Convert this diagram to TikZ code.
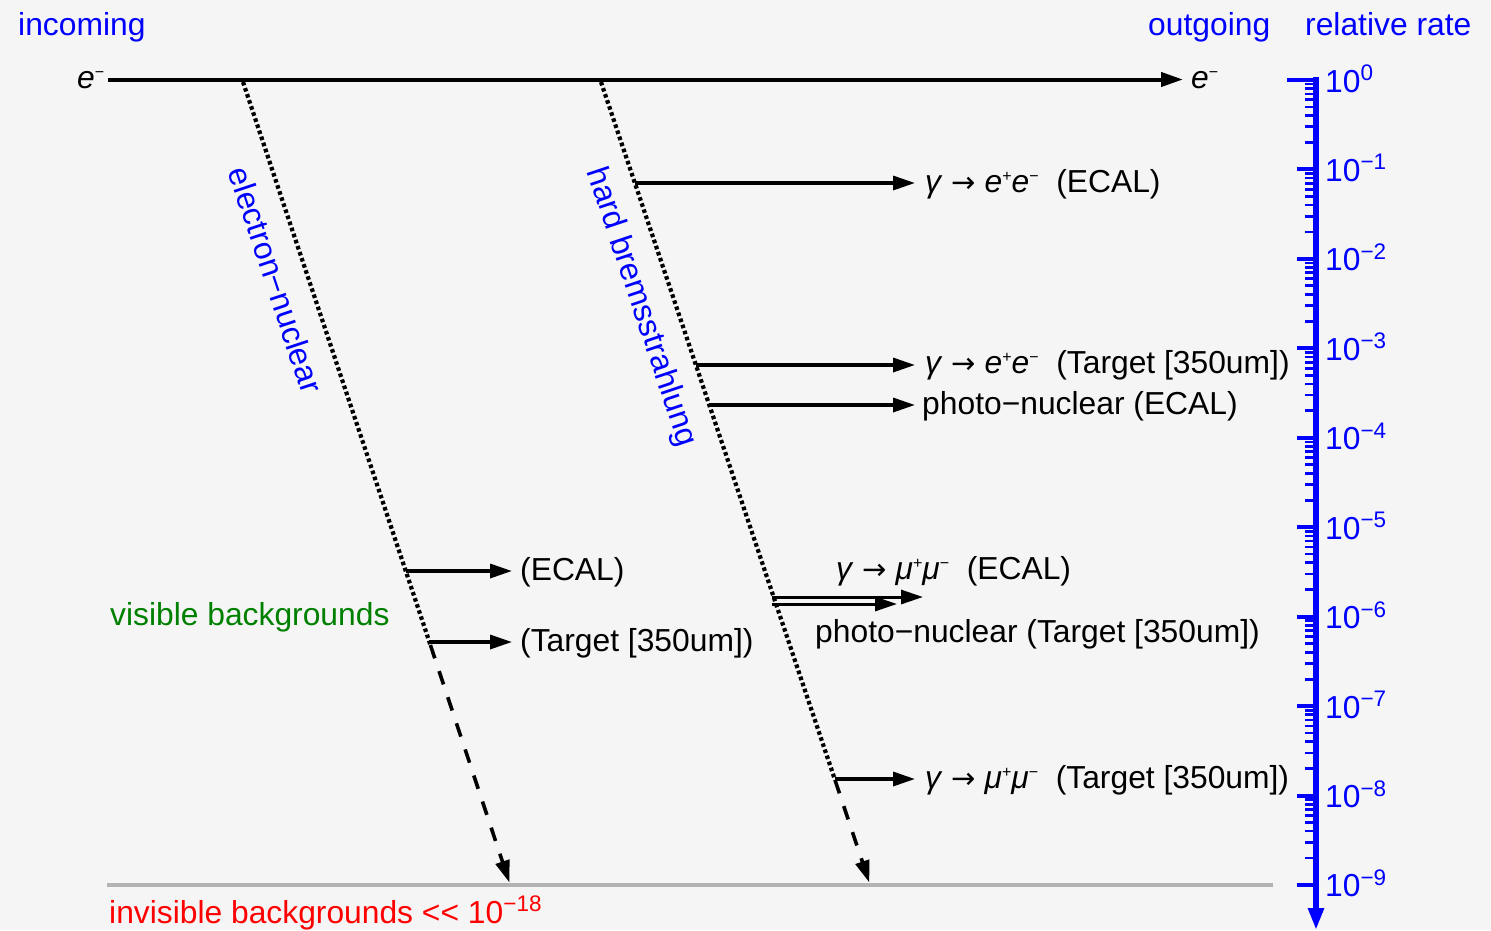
\documentclass[tikz,border=0pt]{standalone}
\usepackage{fontspec}
\setmainfont{Liberation Sans}
\newfontfamily\arrowfont{DejaVu Sans}
\usetikzlibrary{arrows.meta,calc}
\definecolor{bg}{HTML}{F5F5F5}
\definecolor{gline}{HTML}{B3B3B3}
\definecolor{dgreen}{HTML}{008000}
\newcommand\supA[1]{\raisebox{11.5pt}{\fontsize{22.5}{22}\selectfont #1}}
\newcommand\supB[1]{\raisebox{11pt}{\fontsize{16}{16}\selectfont #1}}
\newcommand\rarr{{\arrowfont\fontsize{29}{29}\selectfont →}}
\begin{document}
\begin{tikzpicture}[x=1pt,y=-1pt,
  every node/.style={inner sep=0pt, font=\fontsize{31.8}{38}\selectfont},
  arrowhd/.style={-{Triangle[length=22pt,width=14pt]}},
  branch/.style={arrowhd, line width=3.3pt},
  dotline/.style={line width=4.2pt, dash pattern=on 3.6pt off 2.8pt},
  dashline/.style={arrowhd, line width=3.6pt, dash pattern=on 14pt off 13.5pt},
  lab/.style={anchor=base west},
  ticklab/.style={anchor=base west, text=blue},
  major/.style={blue, line width=4pt},
  minor/.style={blue, line width=2.7pt},
]
\useasboundingbox (0,0) rectangle (1491,930);
\fill[bg] (0,0) rectangle (1491,930);

% headers
\node[lab, text=blue] (hin) at (18,35) {incoming};
\node[lab, text=blue] (hout) at (1148,35) {outgoing};
\node[lab, text=blue] (hrate) at (1305,35) {relative rate};

% main electron line
\node[lab] (ein) at (77,88) {\textit{e}\supB{−}};
\node[lab] (eout) at (1191,88) {\textit{e}\supB{−}};
\coordinate (a0) at (108,79.5);
\coordinate (a1) at (1183,79.5);
\draw[line width=4pt, arrowhd] (a0) -- (a1);

% process lines
\coordinate (s1) at (243,82);
\coordinate (k1) at (430.4,645);
\coordinate (e1) at (509.4,882.5);
\coordinate (s2) at (601,82);
\coordinate (k2) at (835.0,780);
\coordinate (e2) at (869.3,882.5);
\draw[dotline] (s1) -- (k1);
\draw[dashline] (k1) -- (e1);
\draw[dotline] (s2) -- (k2);
\draw[dashline] (k2) -- (e2);

\node[text=blue, rotate=-71.6] (lenuc) at (276,280) {electron−nuclear};
\node[text=blue, rotate=-71.5] (lbrem) at (641,307) {hard bremsstrahlung};

% branches from bremsstrahlung line
\coordinate (b1) at (634.9,183);
\coordinate (b2) at (695.9,365);
\coordinate (b3) at (709.3,405);
\coordinate (b4) at (772,597);
\coordinate (b5) at (772,604);
\coordinate (b6) at (834.7,779);
\coordinate (t4) at (923,597);
\coordinate (t5) at (897,604);

\node[lab] (L1) at (925,192) {\textit{γ} \rarr{} \textit{e}\supB{+}\textit{e}\supB{−}\ \ (ECAL)};
\node[lab] (L2) at (925,373) {\textit{γ} \rarr{} \textit{e}\supB{+}\textit{e}\supB{−}\ \ (Target [350um])};
\node[lab] (L3) at (922,414) {photo−nuclear (ECAL)};
\node[lab] (L4) at (836,579) {\textit{γ} \rarr{} \textit{μ}\supB{+}\textit{μ}\supB{−}\ \ (ECAL)};
\node[lab] (L5) at (815,642) {photo−nuclear (Target [350um])};
\node[lab] (L6) at (925,788) {\textit{γ} \rarr{} \textit{μ}\supB{+}\textit{μ}\supB{−}\ \ (Target [350um])};

\draw[branch, shorten >=10pt] (b1) -- (b1 -| L1.west);
\draw[branch, shorten >=10pt] (b2) -- (b2 -| L2.west);
\draw[branch, shorten >=7pt] (b3) -- (b3 -| L3.west);
\draw[branch, line width=3pt] (b4) -- (t4);
\draw[branch, line width=3pt] (b5) -- (t5);
\draw[branch, shorten >=10pt] (b6) -- (b6 -| L6.west);

% branches from electron-nuclear line
\coordinate (c1) at (405.8,571);
\coordinate (c2) at (429.4,642);
\node[lab] (L7) at (520,580) {(ECAL)};
\node[lab] (L8) at (520,651) {(Target [350um])};
\draw[branch, shorten >=8pt] (c1) -- (c1 -| L7.west);
\draw[branch, shorten >=8pt] (c2) -- (c2 -| L8.west);

\node[lab, text=dgreen] (vis) at (110,625) {visible backgrounds};

% invisible line
\coordinate (g0) at (107,884.7);
\coordinate (g1) at (1273,884.7);
\draw[gline, line width=4pt] (g0) -- (g1);
\node[lab, text=red] (invis) at (109,923) {invisible backgrounds <{}< 10\supA{−18}};

% axis
\coordinate (ax0) at (1316,77);
\coordinate (ax1) at (1316,930);
\draw[blue, line width=6pt, -{Triangle[length=22pt,width=15pt]}] (ax0) -- (ax1);
\draw[major] (1287,80) -- (1318,80);
\node[ticklab] (t0) at (1325,92) {10\supA{0}};
\foreach \k in {1,...,9} {
  \draw[major] (1297,{80+89.44*\k}) -- (1318,{80+89.44*\k});
  \node[ticklab] (t\k) at (1325,{92+89.44*\k}) {10\supA{−\k}};
}
\foreach \k in {0,...,8} {
  \foreach \m in {2,...,9} {
    \draw[minor] (1305,{80+89.44*(\k+1-log10(\m))}) -- (1318,{80+89.44*(\k+1-log10(\m))});
  }
}
\end{tikzpicture}
\end{document}
